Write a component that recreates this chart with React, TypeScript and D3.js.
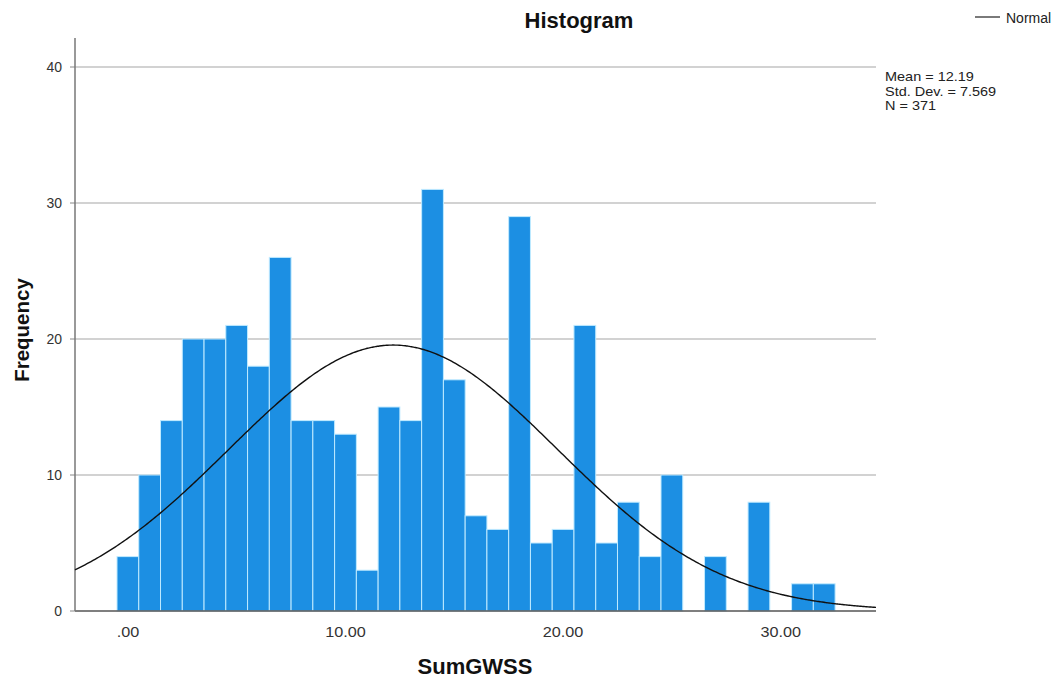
import React from "react";
import * as d3 from "d3";

const binCenters: number[] = [0,1,2,3,4,5,6,7,8,9,10,11,12,13,14,15,16,17,18,19,20,21,22,23,24,25,26,27,28,29,30,31,32];
const counts: number[] = [4,10,14,20,20,21,18,26,14,14,13,3,15,14,31,17,7,6,29,5,6,21,5,8,4,10,0,4,0,8,0,2,2];
const xTicks: number[] = [0, 10, 20, 30];
const xTickLabels: string[] = [".00", "10.00", "20.00", "30.00"];
const yTicks: number[] = [0, 10, 20, 30, 40];
const stats = { mean: 12.19, sd: 7.569, n: 371 };
const statLines: string[] = ["Mean = 12.19", "Std. Dev. = 7.569", "N = 371"];

export default function App() {
  const W = 1063, H = 686;
  const left = 75, right = 876, top = 38, bottom = 611;
  const x = d3.scaleLinear().domain([-2.43, 34.38]).range([left, right]);
  const y = d3.scaleLinear().domain([0, 40]).range([bottom, bottom - 544]);
  const font = "'Liberation Sans', Arial, sans-serif";
  const binW = 1;

  const norm = (v: number) =>
    (stats.n * binW) / (stats.sd * Math.sqrt(2 * Math.PI)) *
    Math.exp(-0.5 * Math.pow((v - stats.mean) / stats.sd, 2));
  const pts: [number, number][] = d3.range(0, 401).map((i) => {
    const v = -2.43 + (i / 400) * (34.38 + 2.43);
    return [v, norm(v)];
  });
  const line = d3.line<[number, number]>().x((d) => x(d[0])).y((d) => y(d[1])).curve(d3.curveBasis);

  return (
    <svg width={W} height={H} style={{ position: "absolute", left: 0, top: 0, background: "#fff" }}>
      <rect x={0} y={0} width={W} height={H} fill="#fff" />
      <text x={579} y={28} textAnchor="middle" fontFamily={font} fontWeight="bold" fontSize={22} fill="#111">Histogram</text>
      {yTicks.filter((t) => t > 0).map((t) => (
        <line key={"g" + t} x1={left} x2={right} y1={y(t)} y2={y(t)} stroke="#d2d2d2" strokeWidth={2} />
      ))}
      {yTicks.map((t) => (
        <g key={"yt" + t}>
          <line x1={left - 5} x2={left} y1={y(t)} y2={y(t)} stroke="#888" strokeWidth={1} />
          <text x={left - 13} y={y(t) + 5} textAnchor="end" fontFamily={font} fontSize={14} fill="#333">{t}</text>
        </g>
      ))}
      {binCenters.map((c, i) =>
        counts[i] > 0 ? (
          <rect key={"b" + i} x={x(c - 0.5)} y={y(counts[i])} width={x(c + 0.5) - x(c - 0.5)} height={y(0) - y(counts[i])}
            fill="#1c8fe3" stroke="#bfeaff" strokeWidth={1} />
        ) : null
      )}
      <line x1={left} x2={right} y1={bottom} y2={bottom} stroke="#555" strokeWidth={1.5} />
      <line x1={left} x2={left} y1={top} y2={bottom} stroke="#777" strokeWidth={1.5} />
      <path d={line(pts) || ""} fill="none" stroke="#111" strokeWidth={1.4} />
      {xTicks.map((t, i) => (
        <text key={"xt" + t} transform={`translate(${x(t)},637) scale(1.08,1)`} textAnchor="middle" fontFamily={font} fontSize={15} fill="#333">{xTickLabels[i]}</text>
      ))}
      <text x={475} y={674} textAnchor="middle" fontFamily={font} fontWeight="bold" fontSize={22} fill="#111">SumGWSS</text>
      <text transform="translate(29,330) rotate(-90)" textAnchor="middle" fontFamily={font} fontWeight="bold" fontSize={20.5} fill="#111">Frequency</text>
      <line x1={975} x2={1000} y1={17} y2={17} stroke="#222" strokeWidth={1.2} />
      <text x={1006} y={23} fontFamily={font} fontSize={14} fill="#222">Normal</text>
      {statLines.map((s, i) => (
        <text key={"s" + i} transform={`translate(885,${81 + i * 14.5}) scale(1.15,1)`} fontFamily={font} fontSize={12.6} fill="#222">{s}</text>
      ))}
    </svg>
  );
}
